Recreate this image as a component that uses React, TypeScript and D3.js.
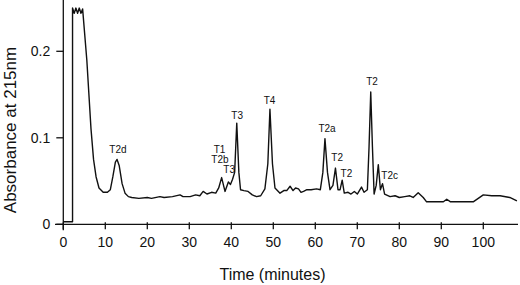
import React from "react";
import * as d3 from "d3";

const minutes: number[] = [
  0, 2.2, 2.2, 2.6, 3.0, 3.4, 3.8, 4.2, 4.6, 5.6, 6.6, 7.2, 7.8, 8.5, 9.5, 10.5, 11.2, 11.8, 12.4, 12.8,
  13.3, 14.0, 14.7, 15.5, 16.3, 18, 20, 21, 23, 24, 26, 27.8, 28.5, 30.2, 31.5, 32.5, 33.3, 34.2, 35.3, 36.3,
  37.0, 37.7, 38.5, 39.3, 39.8, 40.3, 40.8, 41.3, 41.8, 42.2, 43, 44, 45, 46, 47, 48, 48.7, 49.2, 49.8, 50.4,
  51.6, 52.5, 53.2, 54, 54.7, 55.3, 56, 56.6, 57.2, 58, 59, 60.3, 61.2, 61.8, 62.3, 62.9, 63.5, 64.2, 64.8, 65.4,
  65.9, 66.4, 66.9, 67.8, 68.5, 69.3, 70, 71, 71.6, 72.4, 72.8, 73.2, 73.6, 74.0, 74.5, 75, 75.5, 76, 76.5, 77.8,
  79, 80, 81.3, 82.5, 83.3, 84.5, 85.7, 86.5, 88, 90.5, 91.3, 92.2, 95, 97.6, 100, 102, 104, 106.3, 108,
];

const absorbance: number[] = [
  0.003, 0.003, 0.25, 0.244, 0.25, 0.244, 0.25, 0.244, 0.249, 0.19, 0.11, 0.075, 0.055, 0.042, 0.037, 0.037, 0.04, 0.055, 0.072, 0.075,
  0.068, 0.047, 0.036, 0.032, 0.031, 0.03, 0.031, 0.03, 0.032, 0.031, 0.032, 0.034, 0.032, 0.032, 0.034, 0.033, 0.038, 0.035, 0.037, 0.036,
  0.042, 0.054, 0.038, 0.049, 0.046, 0.052, 0.06, 0.117, 0.06, 0.04, 0.039, 0.038, 0.034, 0.032, 0.033, 0.041, 0.07, 0.133, 0.07, 0.042,
  0.036, 0.039, 0.039, 0.044, 0.039, 0.042, 0.041, 0.037, 0.038, 0.04, 0.04, 0.041, 0.04, 0.06, 0.099, 0.06, 0.04, 0.045, 0.065, 0.04,
  0.04, 0.051, 0.036, 0.037, 0.035, 0.038, 0.035, 0.043, 0.037, 0.04, 0.09, 0.153, 0.09, 0.035, 0.045, 0.069, 0.04, 0.047, 0.035, 0.032,
  0.033, 0.031, 0.032, 0.033, 0.031, 0.0365, 0.031, 0.026, 0.026, 0.026, 0.029, 0.026, 0.026, 0.026, 0.034, 0.033, 0.033, 0.031, 0.027,
];

const peakNames: string[] = ["T2d", "T1", "T2b", "T3", "T3", "T4", "T2a", "T2", "T2", "T2", "T2c"];
const peakMinutes: number[] = [13.0, 37.2, 37.3, 39.5, 41.4, 49.1, 62.8, 65.2, 67.4, 73.5, 77.7];
const peakLevels: number[] = [0.0828, 0.0828, 0.0712, 0.0593, 0.1217, 0.1391, 0.1064, 0.0732, 0.0543, 0.161, 0.0524];

const xTicks: number[] = [0, 10, 20, 30, 40, 50, 60, 70, 80, 90, 100];
const yTicks: number[] = [0, 0.1, 0.2];
const yTickLabels: string[] = ["0", "0.1", "0.2"];

const xTitle = "Time (minutes)";
const yTitle = "Absorbance at 215nm";

export default function App() {
  const W = 520;
  const H = 285;
  const x = d3.scaleLinear().domain([0, 100]).range([63.3, 483.3]);
  const y = d3.scaleLinear().domain([0, 0.25]).range([224.3, 8.05]);
  const pts: [number, number][] = minutes.map((m, i) => [m, absorbance[i]]);
  const line = d3
    .line<[number, number]>()
    .x((d) => x(d[0]))
    .y((d) => y(d[1]));
  const font = "Arial, 'Liberation Sans', Helvetica, sans-serif";
  const ink = "#111";
  const x0 = x(0);
  const yBase = y(0);
  return (
    <svg
      width={W}
      height={H}
      style={{ position: "absolute", left: 0, top: 0, background: "#fff" }}
      fontFamily={font}
    >
      <rect width={W} height={H} fill="#fff" />
      {/* axes */}
      <line x1={x0} x2={x0} y1={0} y2={yBase + 6} stroke={ink} strokeWidth={1.3} />
      <line x1={55} x2={518} y1={yBase} y2={yBase} stroke={ink} strokeWidth={1.3} />
      {yTicks.map((t, i) => (
        <g key={"y" + i}>
          <line x1={x0 - 7} x2={x0} y1={y(t)} y2={y(t)} stroke={ink} strokeWidth={1.3} />
          <text x={x0 - 13} y={y(t) + 5} textAnchor="end" fontSize={14} fill={ink}>
            {yTickLabels[i]}
          </text>
        </g>
      ))}
      {xTicks.map((t) => (
        <g key={"x" + t}>
          <line x1={x(t)} x2={x(t)} y1={yBase - 2} y2={yBase + 5} stroke={ink} strokeWidth={1.3} />
          <text x={x(t)} y={247} textAnchor="middle" fontSize={14} fill={ink}>
            {t}
          </text>
        </g>
      ))}
      <text x={272.5} y={280} textAnchor="middle" fontSize={16} fill={ink}>
        {xTitle}
      </text>
      <text
        transform={`translate(16,130) rotate(-90)`}
        textAnchor="middle"
        fontSize={17}
        fill={ink}
      >
        {yTitle}
      </text>
      <path d={line(pts) || ""} fill="none" stroke={ink} strokeWidth={1.4} strokeLinejoin="round" />
      {peakNames.map((n, i) => (
        <text
          key={"p" + i}
          x={x(peakMinutes[i])}
          y={y(peakLevels[i])}
          textAnchor="middle"
          fontSize={10}
          fill={ink}
        >
          {n}
        </text>
      ))}
    </svg>
  );
}
